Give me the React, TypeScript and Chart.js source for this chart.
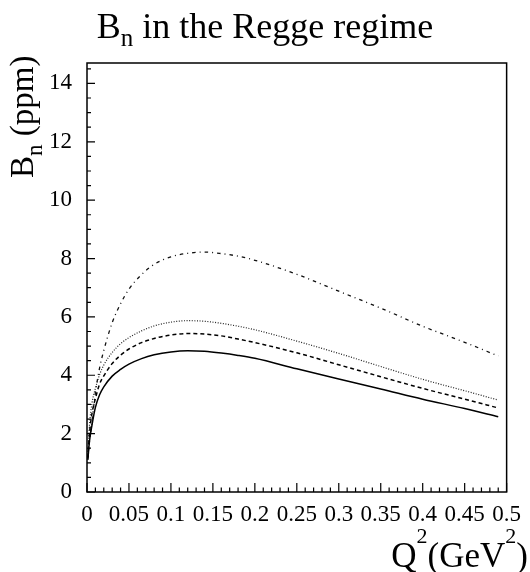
import React, { useEffect, useRef } from "react";
import { Chart, registerables } from "chart.js";

Chart.register(...registerables);

// Q^2 (GeV^2) sample positions
const Q2 = [0.001, 0.003, 0.006, 0.01, 0.015, 0.02, 0.03, 0.04, 0.05, 0.065, 0.08, 0.1, 0.12, 0.14, 0.16, 0.18, 0.2, 0.25, 0.3, 0.35, 0.4, 0.45, 0.49];

// B_n (ppm) curves
const BN_SOLID = [1.1, 1.75, 2.3, 2.9, 3.33, 3.6, 3.97, 4.2, 4.38, 4.57, 4.7, 4.8, 4.84, 4.82, 4.76, 4.68, 4.58, 4.22, 3.87, 3.53, 3.18, 2.86, 2.58];
const BN_DASHED = [1.15, 2.0, 2.7, 3.2, 3.7, 3.98, 4.4, 4.69, 4.9, 5.12, 5.26, 5.38, 5.43, 5.41, 5.35, 5.24, 5.12, 4.77, 4.36, 3.95, 3.55, 3.18, 2.88];
const BN_DOTTED = [1.2, 2.3, 3.05, 3.55, 4.02, 4.35, 4.78, 5.08, 5.29, 5.52, 5.69, 5.82, 5.87, 5.85, 5.78, 5.68, 5.56, 5.17, 4.75, 4.3, 3.86, 3.47, 3.15];
const BN_DASHDOT = [1.2, 1.75, 2.45, 3.4, 4.25, 4.85, 5.8, 6.45, 6.95, 7.45, 7.8, 8.06, 8.18, 8.22, 8.17, 8.08, 7.94, 7.46, 6.88, 6.3, 5.68, 5.13, 4.66];

// axes
const X_MIN = 0;
const X_MAX = 0.5;
const X_TICKS = [0, 0.05, 0.1, 0.15, 0.2, 0.25, 0.3, 0.35, 0.4, 0.45, 0.5];
const X_TICK_LABELS = ["0", "0.05", "0.1", "0.15", "0.2", "0.25", "0.3", "0.35", "0.4", "0.45", "0.5"];
const Y_MIN = 0;
const Y_MAX = 14.7;
const Y_TICKS = [0, 2, 4, 6, 8, 10, 12, 14];
const Y_TICK_LABELS = ["0", "2", "4", "6", "8", "10", "12", "14"];

const FONT = '"Liberation Serif", "Times New Roman", serif';

type Part = { t: string; s: number; dy: number };

function partsWidth(ctx: CanvasRenderingContext2D, parts: Part[]) {
  let w = 0;
  for (const p of parts) {
    ctx.font = `${p.s}px ${FONT}`;
    w += ctx.measureText(p.t).width;
  }
  return w;
}

function drawParts(ctx: CanvasRenderingContext2D, parts: Part[], x: number, y: number) {
  let cx = x;
  ctx.textAlign = "left";
  ctx.textBaseline = "alphabetic";
  for (const p of parts) {
    ctx.font = `${p.s}px ${FONT}`;
    ctx.fillText(p.t, cx, y + p.dy);
    cx += ctx.measureText(p.t).width;
  }
}

const decorPlugin = {
  id: "decor",
  afterDraw(chart: any) {
    const ctx: CanvasRenderingContext2D = chart.ctx;
    const { left, right, top, bottom } = chart.chartArea;
    const xs = chart.scales.x;
    const ys = chart.scales.y;
    ctx.save();
    ctx.strokeStyle = "#000";
    ctx.fillStyle = "#000";

    // frame
    ctx.lineWidth = 1.5;
    ctx.strokeRect(left, top, right - left, bottom - top);

    // ticks (inward)
    ctx.lineWidth = 1.2;
    ctx.beginPath();
    for (let i = 0; i < X_TICKS.length; i++) {
      const px = xs.getPixelForValue(X_TICKS[i]);
      ctx.moveTo(px, bottom);
      ctx.lineTo(px, bottom - 9);
      if (i < X_TICKS.length - 1) {
        const a = X_TICKS[i];
        const b = X_TICKS[i + 1];
        for (let j = 1; j < 5; j++) {
          const mx = xs.getPixelForValue(a + ((b - a) * j) / 5);
          ctx.moveTo(mx, bottom);
          ctx.lineTo(mx, bottom - 4.5);
        }
      }
    }
    for (let i = 0; i < Y_TICKS.length; i++) {
      const py = ys.getPixelForValue(Y_TICKS[i]);
      ctx.moveTo(left, py);
      ctx.lineTo(left + 8, py);
      const a = Y_TICKS[i];
      const step = i < Y_TICKS.length - 1 ? Y_TICKS[i + 1] - a : Y_TICKS[1] - Y_TICKS[0];
      for (let j = 1; j < 4; j++) {
        const v = a + (step * j) / 4;
        if (v > Y_MAX) break;
        const my = ys.getPixelForValue(v);
        ctx.moveTo(left, my);
        ctx.lineTo(left + 4, my);
      }
    }
    ctx.stroke();

    // title
    const title: Part[] = [
      { t: "B", s: 36, dy: 0 },
      { t: "n", s: 25, dy: 8 },
      { t: " in the Regge regime", s: 36, dy: 0 },
    ];
    const tw = partsWidth(ctx, title);
    drawParts(ctx, title, 265 - tw / 2, 38);

    // x axis title
    const xt: Part[] = [
      { t: "Q", s: 35, dy: 0 },
      { t: "2", s: 22, dy: -24 },
      { t: "(GeV", s: 35, dy: 0 },
      { t: "2", s: 22, dy: -24 },
      { t: ")", s: 35, dy: 0 },
    ];
    const xw = partsWidth(ctx, xt);
    drawParts(ctx, xt, 528 - xw, 567);

    // y axis title
    const yt: Part[] = [
      { t: "B", s: 33, dy: 0 },
      { t: "n", s: 23, dy: 9 },
      { t: " (ppm)", s: 33, dy: 0 },
    ];
    ctx.translate(33, 178);
    ctx.rotate(-Math.PI / 2);
    drawParts(ctx, yt, 0, 0);
    ctx.restore();
  },
};

export default function App() {
  const ref = useRef<HTMLCanvasElement>(null);
  useEffect(() => {
    const canvas = ref.current;
    if (!canvas) return;
    const mk = (vals: number[]) => Q2.map((q, i) => ({ x: q, y: vals[i] }));
    const chart = new Chart(canvas, {
      type: "line",
      data: {
        datasets: [
          { data: mk(BN_SOLID), borderColor: "#000", borderWidth: 1.5, pointRadius: 0, fill: false, cubicInterpolationMode: "monotone" },
          { data: mk(BN_DASHED), borderColor: "#000", borderWidth: 1.5, borderDash: [4, 3], pointRadius: 0, fill: false, cubicInterpolationMode: "monotone" },
          { data: mk(BN_DOTTED), borderColor: "#222", borderWidth: 1.2, borderDash: [1, 1.6], pointRadius: 0, fill: false, cubicInterpolationMode: "monotone" },
          { data: mk(BN_DASHDOT), borderColor: "#111", borderWidth: 1.3, borderDash: [3.5, 4, 1, 4], pointRadius: 0, fill: false, cubicInterpolationMode: "monotone" },
        ],
      } as any,
      options: {
        responsive: false,
        animation: false,
        events: [],
        layout: { padding: { top: 63, right: 19, left: 0, bottom: 0 } },
        plugins: { legend: { display: false }, tooltip: { enabled: false }, title: { display: false } },
        scales: {
          x: {
            type: "linear",
            min: X_MIN,
            max: X_MAX,
            afterFit: (s: any) => { s.height = 80; },
            afterBuildTicks: (s: any) => { s.ticks = X_TICKS.map((v) => ({ value: v })); },
            ticks: {
              callback: (_v: any, i: number) => X_TICK_LABELS[i],
              font: { family: FONT, size: 23 },
              color: "#000",
              maxRotation: 0,
              autoSkip: false,
              padding: 9,
            },
            grid: { display: false, drawTicks: false },
            border: { display: false },
          },
          y: {
            type: "linear",
            min: Y_MIN,
            max: Y_MAX,
            afterFit: (s: any) => { s.width = 87; },
            afterBuildTicks: (s: any) => { s.ticks = Y_TICKS.map((v) => ({ value: v })); },
            ticks: {
              callback: (_v: any, i: number) => Y_TICK_LABELS[i],
              font: { family: FONT, size: 23 },
              color: "#000",
              autoSkip: false,
              padding: 15,
            },
            grid: { display: false, drawTicks: false },
            border: { display: false },
          },
        },
      } as any,
      plugins: [decorPlugin as any],
    });
    return () => chart.destroy();
  }, []);
  return (
    <div style={{ position: "absolute", left: 0, top: 0, width: 530, height: 572, background: "#fff" }}>
      <canvas ref={ref} width={530} height={572} style={{ display: "block" }} />
    </div>
  );
}
